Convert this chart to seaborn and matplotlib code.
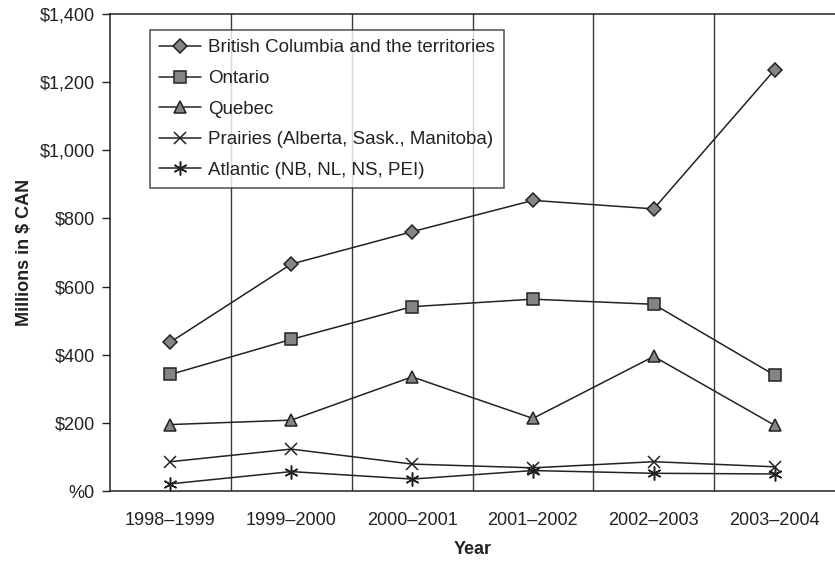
import matplotlib
matplotlib.use("Agg")
import matplotlib.pyplot as plt
import seaborn as sns
import pandas as pd

# Fiscal years on the x axis
years = ["1998–1999", "1999–2000", "2000–2001", "2001–2002", "2002–2003", "2003–2004"]

# Spending by region, millions of CAN$
bc_territories = [437, 666, 761, 853, 828, 1236]
ontario = [342, 445, 541, 563, 548, 340]
quebec = [195, 208, 335, 213, 395, 193]
prairies = [86, 123, 79, 68, 86, 71]
atlantic = [21, 57, 35, 60, 52, 50]

regions = [
    "British Columbia and the territories",
    "Ontario",
    "Quebec",
    "Prairies (Alberta, Sask., Manitoba)",
    "Atlantic (NB, NL, NS, PEI)",
]
series = [bc_territories, ontario, quebec, prairies, atlantic]

y_ticks = [0, 200, 400, 600, 800, 1000, 1200, 1400]
y_tick_labels = ["%0", "$200", "$400", "$600", "$800", "$1,000", "$1,200", "$1,400"]

rows = []
for name, vals in zip(regions, series):
    for i, (yr, v) in enumerate(zip(years, vals)):
        rows.append({"Year": yr, "pos": i, "Region": name, "Value": v})
df = pd.DataFrame(rows)

sns.set_theme(style="white")
plt.rcParams["font.family"] = ["Liberation Sans", "DejaVu Sans"]
ink = "#222222"
fs = 13

fig = plt.figure(figsize=(8.35, 5.62), dpi=100)
W, H = 835, 562
ax = fig.add_axes([110 / W, (H - 491) / H, (835 - 110) / W, 477 / H])

markers = {
    regions[0]: "D",
    regions[1]: "s",
    regions[2]: "^",
    regions[3]: "x",
    regions[4]: (6, 2, 0),
}
sizes = {regions[0]: 7, regions[1]: 8.5, regions[2]: 9, regions[3]: 9, regions[4]: 10}

for name in regions:
    sub = df[df["Region"] == name]
    sns.lineplot(
        data=sub, x="pos", y="Value", ax=ax, color=ink, linewidth=1.1,
        marker=markers[name], markersize=sizes[name],
        markerfacecolor="#858585", markeredgecolor=ink, markeredgewidth=1.1,
        label=name, zorder=3,
    )

n = len(years)
x_right = -0.5 + 725 / 121.5
ax.set_xlim(-0.5, x_right)
ax.set_ylim(0, 1400)

# Boundaries between fiscal years
for b in range(1, n):
    ax.axvline(b - 0.5, color="#3a3a3a", linewidth=1.0, zorder=1)

ax.set_xticks(range(n))
ax.set_xticklabels(years, fontsize=fs, color=ink)
ax.set_xticks([i - 0.5 for i in range(n + 1)], minor=True)
ax.tick_params(axis="x", which="major", length=0, pad=15)
ax.tick_params(axis="x", which="minor", length=7, width=1.0, color=ink, direction="out")

ax.set_yticks(y_ticks)
ax.set_yticklabels(y_tick_labels, fontsize=fs, color=ink)
ax.tick_params(axis="y", which="major", length=6, width=1.0, color=ink, direction="out", left=True, pad=5)

for side in ["left", "bottom", "top"]:
    ax.spines[side].set_visible(True)
    ax.spines[side].set_color(ink)
    ax.spines[side].set_linewidth(1.1)
ax.spines["right"].set_visible(False)
ax.grid(False)

ax.set_xlabel("Year", fontsize=fs, fontweight="bold", color=ink, labelpad=9)
ax.set_ylabel("Millions in $ CAN", fontsize=fs, fontweight="bold", color=ink, labelpad=5)

leg = ax.legend(
    loc="upper left", bbox_to_anchor=(150 / W, 1 - 30 / H), bbox_transform=fig.transFigure,
    borderaxespad=0, frameon=True, fancybox=False, fontsize=13.5,
    handlelength=2.2, handletextpad=0.38, labelspacing=0.72, borderpad=0.5,
)
leg.get_frame().set_edgecolor(ink)
leg.get_frame().set_linewidth(1.1)
for t in leg.get_texts():
    t.set_color(ink)

fig.savefig("out.png", dpi=100)
